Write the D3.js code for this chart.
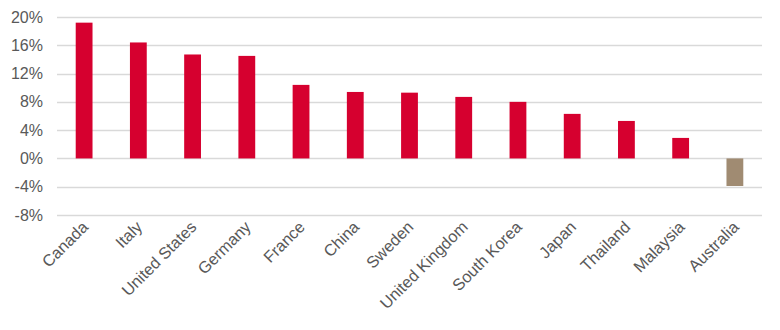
<!DOCTYPE html>
<html>
<head>
<meta charset="utf-8">
<script src="https://cdn.jsdelivr.net/npm/d3@7"></script>
<style>
  body { margin: 0; background: #fff; }
  text { font-family: "Liberation Sans", Arial, sans-serif; fill: #595959; }
</style>
</head>
<body>
<div id="chart"></div>
<script>
var countries = ["Canada", "Italy", "United States", "Germany", "France", "China", "Sweden",
                 "United Kingdom", "South Korea", "Japan", "Thailand", "Malaysia", "Australia"]
var growth = [19.2, 16.4, 14.7, 14.5, 10.4, 9.4, 9.3, 8.7, 8.0, 6.3, 5.3, 2.9, -3.9]
var yTicks = [-8, -4, 0, 4, 8, 12, 16, 20]

var width = 780, height = 330
var margin = { top: 17, left: 57, right: 18, bottom: 115 }

var svg = d3.select("#chart").append("svg")
    .attr("width", width).attr("height", height)

var x = d3.scaleBand()
    .domain(countries)
    .range([margin.left, width - margin.right])
    .paddingInner(0.69).paddingOuter(0.345)

var y = d3.scaleLinear()
    .domain([-8, 20])
    .range([height - margin.bottom, margin.top])

// gridlines
svg.append("g").selectAll("line")
    .data(yTicks).enter().append("line")
    .attr("x1", margin.left).attr("x2", width - margin.right)
    .attr("y1", function(d) { return Math.round(y(d)) + 0.5 })
    .attr("y2", function(d) { return Math.round(y(d)) + 0.5 })
    .attr("stroke", "#d9d9d9").attr("stroke-width", 1.3)

// y labels
svg.append("g").selectAll("text")
    .data(yTicks).enter().append("text")
    .attr("x", 43)
    .attr("y", function(d) { return y(d) })
    .attr("dy", "0.35em")
    .attr("text-anchor", "end")
    .attr("font-size", 16)
    .text(function(d) { return d + "%" })

// bars
svg.append("g").selectAll("rect")
    .data(countries).enter().append("rect")
    .attr("x", function(d) { return x(d) })
    .attr("width", x.bandwidth())
    .attr("y", function(d, i) { return y(Math.max(0, growth[i])) })
    .attr("height", function(d, i) { return Math.abs(y(growth[i]) - y(0)) })
    .attr("fill", function(d, i) { return growth[i] < 0 ? "#a08b72" : "#d6002f" })

// category labels
svg.append("g").selectAll("text")
    .data(countries).enter().append("text")
    .attr("text-anchor", "end")
    .attr("font-size", 16.3)
    .attr("transform", function(d) {
        var cx = x(d) + x.bandwidth() / 2 + 5
        return "translate(" + cx + "," + (y(-8) + 13) + ") rotate(-45)"
    })
    .text(function(d) { return d })
</script>
</body>
</html>
